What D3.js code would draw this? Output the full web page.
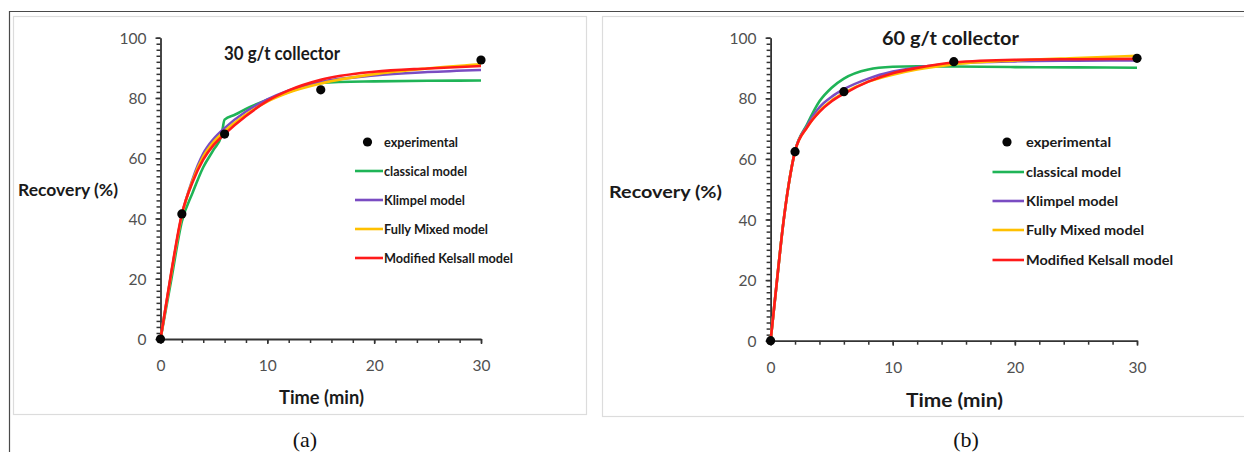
<!DOCTYPE html>
<html>
<head>
<meta charset="utf-8">
<script src="https://cdn.jsdelivr.net/npm/d3@7"></script>
<style>
  html, body { margin: 0; padding: 0; background: #fff; }
  svg { display: block; }
  text { font-family: Lato, "Open Sans", sans-serif; }
</style>
</head>
<body>
<svg id="fig" width="1244" height="452"></svg>
<script>
// ---- data ---------------------------------------------------------------
const expTime = [0, 2, 6, 15, 30];
const exp30 = [0, 41.5, 68, 82.7, 92.6];
const exp60 = [0, 62.4, 82.2, 92.1, 93.2];

// 30 g/t collector — fitted model curves
const classicalTime30 = [0, 1, 2, 3, 4, 5, 5.7, 6, 7, 8, 10, 12, 15, 20, 25, 30];
const classical30 = [0, 19.5, 39, 48.5, 57, 63, 67.5, 72.8, 74.5, 76.4, 79.4, 82, 85, 85.5, 85.7, 85.8];
const modelTime30 = [0, 1, 2, 3, 4, 5, 6, 8, 10, 12, 15, 20, 25, 30];
const klimpel30 = [0, 21.5, 41, 53, 61.5, 66.5, 70, 75.5, 79.5, 82.5, 85.3, 87.5, 88.6, 89.3];
const fullyMixed30 = [0, 21.5, 41, 52.5, 60.5, 65.5, 69, 74.5, 78.8, 81.8, 84.8, 87.9, 89.8, 91.2];
const kelsall30 = [0, 22, 41.5, 52, 59.5, 64.5, 68, 74, 79, 82.5, 86, 88.7, 89.8, 90.6];

// 60 g/t collector — fitted model curves
const modelTime60 = [0, 0.5, 1, 1.5, 2, 3, 4, 5, 6, 8, 10, 12, 15, 20, 25, 30];
const classical60 = [0, 19, 37.5, 52, 62.5, 71.5, 79, 83.5, 86.5, 89.5, 90.4, 90.6, 90.5, 90.3, 90.2, 90.1];
const klimpel60 = [0, 19, 37.5, 52, 62.5, 71, 77, 80.5, 83, 86.5, 88.8, 90.2, 91.5, 92.2, 92.4, 92.5];
const fullyMixed60 = [0, 19, 37.5, 52, 62.5, 70.5, 75.8, 79.3, 81.8, 85.5, 87.8, 89.5, 91.2, 92.5, 93.3, 94];
const kelsall60 = [0, 19, 37.5, 52, 62.5, 70.5, 75.5, 79, 81.5, 85.5, 88.3, 90, 91.8, 92.7, 92.9, 93];

const seriesNames = ["classical model", "Klimpel model", "Fully Mixed model", "Modified Kelsall model"];
const seriesColors = ["#1fb457", "#7a4cc2", "#ffc000", "#ff1a1a"];
const yTicks = [0, 20, 40, 60, 80, 100];
const xTicks = [0, 10, 20, 30];
const panelTitles = ["30 g/t collector", "60 g/t collector"];
const panelTags = ["(a)", "(b)"];

// ---- drawing --------------------------------------------------------------
const svg = d3.select("#fig");

// outer frame of the figure
svg.append("path")
  .attr("d", "M9.5,452 L9.5,11.5 L1244,11.5")
  .attr("fill", "none").attr("stroke", "#4a4a4a").attr("stroke-width", 1.2);

function label(g, x, y, str, opt) {
  const t = g.append("text")
    .attr("x", x).attr("y", y)
    .attr("font-size", opt.size)
    .attr("font-weight", opt.weight || "normal")
    .attr("fill", opt.fill || "#1a1a1a")
    .attr("text-anchor", opt.anchor || "start")
    .text(str);
  if (opt.family) t.style("font-family", opt.family);
  if (opt.width) t.attr("textLength", opt.width).attr("lengthAdjust", "spacingAndGlyphs");
  return t;
}

function drawPanel(p) {
  const g = svg.append("g");

  // panel frame
  g.append("rect")
    .attr("x", p.box[0] + 0.5).attr("y", p.box[1] + 0.5)
    .attr("width", p.box[2]).attr("height", p.box[3])
    .attr("fill", "none").attr("stroke", "#dcdcdc").attr("stroke-width", 1.2);

  const x = d3.scaleLinear().domain([0, 30]).range([p.x0, p.x1]);
  const y = d3.scaleLinear().domain([0, 100]).range([p.y0, p.y1]);

  // y axis with minor ticks every 2 %
  const yMinor = d3.range(0, 101, 2);
  g.append("g").attr("transform", `translate(${p.x0},0)`)
    .call(d3.axisLeft(y).tickValues(yMinor).tickSize(4).tickFormat(""))
    .call(a => a.select(".domain").remove())
    .call(a => a.selectAll("line").attr("stroke", "#333").attr("stroke-width", 1.5));
  g.append("g").attr("transform", `translate(${p.x0},0)`)
    .call(d3.axisLeft(y).tickValues(yTicks).tickSize(5).tickSizeOuter(0).tickPadding(9))
    .call(a => a.select(".domain").attr("stroke", "#333").attr("stroke-width", 1.8))
    .call(a => a.selectAll("line").attr("stroke", "#333").attr("stroke-width", 1.5))
    .call(a => a.selectAll("text").attr("font-size", 15.5).attr("fill", "#505050")
      .style("font-family", "Lato, sans-serif").attr("dy", "0.36em"));

  // x axis with minor ticks every 2 min
  g.append("g").attr("transform", `translate(0,${p.y0})`)
    .call(d3.axisBottom(x).tickValues(d3.range(0, 31, 2)).tickSize(4).tickFormat(""))
    .call(a => a.select(".domain").remove())
    .call(a => a.selectAll("line").attr("stroke", "#333").attr("stroke-width", 1.5));
  g.append("g").attr("transform", `translate(0,${p.y0})`)
    .call(d3.axisBottom(x).tickValues(xTicks).tickSize(5).tickSizeOuter(0).tickPadding(16))
    .call(a => a.select(".domain").attr("stroke", "#333").attr("stroke-width", 1.8))
    .call(a => a.selectAll("line").attr("stroke", "#333").attr("stroke-width", 1.5))
    .call(a => a.selectAll("text").attr("font-size", 15.5).attr("fill", "#505050")
      .style("font-family", "Lato, sans-serif"));

  // model curves
  const line = d3.line()
    .x(d => x(d[0])).y(d => y(d[1]))
    .curve(d3.curveMonotoneX);
  p.models.forEach((m, i) => {
    const pts = m.t.map((t, k) => [t, m.v[k]]);
    g.append("path").datum(pts)
      .attr("d", line)
      .attr("fill", "none")
      .attr("stroke", seriesColors[i])
      .attr("stroke-width", 2.6)
      .attr("stroke-linejoin", "round");
  });

  // experimental points
  g.selectAll("circle.exp")
    .data(expTime.map((t, k) => [t, p.exp[k]]))
    .join("circle").attr("class", "exp")
    .attr("cx", d => x(d[0])).attr("cy", d => y(d[1]))
    .attr("r", 4.6).attr("fill", "#050505");

  // titles and axis labels
  label(g, p.title[0], p.title[1], p.titleText, { size: 18, weight: "bold", width: p.title[2] });
  label(g, p.ylab[0], p.ylab[1], "Recovery (%)", { size: 17, weight: "bold", width: p.ylab[2] });
  label(g, p.xlab[0], p.xlab[1], "Time (min)", { size: 18, weight: "bold", width: p.xlab[2] });
  label(g, p.tag[0], p.tag[1], p.tagText, { size: 22, anchor: "middle", fill: "#111",
    family: '"Liberation Serif", "DejaVu Serif", serif' });

  // legend
  const L = p.legend;
  g.append("circle").attr("cx", L.dotX).attr("cy", L.rows[0]).attr("r", 4.6).attr("fill", "#050505");
  label(g, L.textX, L.rows[0] + 5, "experimental", { size: 13, weight: "bold", width: L.widths[0] });
  seriesNames.forEach((name, i) => {
    const ry = L.rows[i + 1];
    g.append("line")
      .attr("x1", L.lineX[0]).attr("x2", L.lineX[1])
      .attr("y1", ry).attr("y2", ry)
      .attr("stroke", seriesColors[i]).attr("stroke-width", 2.6);
    label(g, L.textX, ry + 5, name, { size: 13, weight: "bold", width: L.widths[i + 1] });
  });
}

drawPanel({
  box: [13, 16, 573, 398],
  x0: 160.5, x1: 481, y0: 339, y1: 37.7,
  exp: exp30,
  models: [
    { t: classicalTime30, v: classical30 },
    { t: modelTime30, v: klimpel30 },
    { t: modelTime30, v: fullyMixed30 },
    { t: modelTime30, v: kelsall30 }
  ],
  titleText: panelTitles[0], title: [224, 60, 116],
  ylab: [18, 196, 100],
  xlab: [279, 404, 85],
  tagText: panelTags[0], tag: [305, 447],
  legend: {
    dotX: 367.5, textX: 384, lineX: [355, 383],
    rows: [142, 171, 200, 229, 258],
    widths: [74, 83, 81, 104, 129]
  }
});

drawPanel({
  box: [602, 16, 660, 400],
  x0: 770.6, x1: 1137, y0: 340.7, y1: 37.7,
  exp: exp60,
  models: [
    { t: modelTime60, v: classical60 },
    { t: modelTime60, v: klimpel60 },
    { t: modelTime60, v: fullyMixed60 },
    { t: modelTime60, v: kelsall60 }
  ],
  titleText: panelTitles[1], title: [882, 45, 137],
  ylab: [609, 198, 113],
  xlab: [906, 407, 97],
  tagText: panelTags[1], tag: [966, 447],
  legend: {
    dotX: 1007, textX: 1026, lineX: [992.5, 1024],
    rows: [142, 172, 201, 230, 260],
    widths: [85, 95, 92, 118, 147]
  }
});
</script>
</body>
</html>
